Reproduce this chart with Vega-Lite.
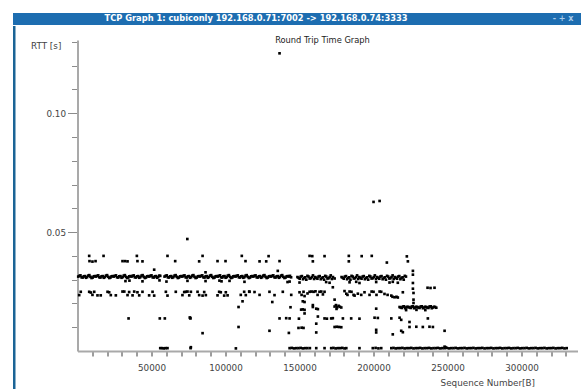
{
"$schema": "https://vega.github.io/schema/vega-lite/v6.json",
"padding": {"left": 11, "top": 13, "right": 0, "bottom": 0},
"background": "white",
"config": {"view": {"stroke": null}, "font": "DejaVu Sans"},
"columns": 1, "spacing": 0, "align": "none",
"concat": [
{
 "width": 570, "height": 12,
 "view": {"fill": "#1d6db0", "stroke": null},
 "layer": [
  {"data": {"values": [{"t": "TCP Graph 1: cubiconly 192.168.0.71:7002 -> 192.168.0.74:3333"}]},
   "mark": {"type": "text", "color": "white", "font": "DejaVu Sans", "fontWeight": "bold", "fontSize": 8.3, "dx": -42, "baseline": "middle"},
   "encoding": {"text": {"field": "t"}}},
  {"data": {"values": [{"b": "-   +   x"}]},
   "mark": {"type": "text", "color": "#a9cbea", "font": "DejaVu Sans", "fontWeight": "bold", "fontSize": 8, "dx": 265, "baseline": "middle"},
   "encoding": {"text": {"field": "b"}}}
 ]
},
{
 "columns": 2, "spacing": {"row": 0, "column": 13.5}, "align": "none",
 "concat": [
  {"width": 1, "height": 1, "data": {"values": []}, "mark": "point", "encoding": {}},
  {"width": 1, "height": 1, "data": {"values": []}, "mark": "point", "encoding": {}},
  {"width": 2.5, "height": 364, "view": {"fill": "#1b6496", "stroke": null},
   "data": {"values": [{"k": 1}]},
   "mark": {"type": "point", "opacity": 0}, "encoding": {}},
  {
   "width": 500, "height": 311,
   "title": {"text": ["", "Round Trip Time Graph"], "fontSize": 8.3, "fontWeight": "normal", "color": "#222222", "font": "DejaVu Sans", "anchor": "middle", "frame": "group", "offset": -15.5, "baseline": "bottom", "lineHeight": 10, "dx": -5},
   "data": {"values": [
{"s":500,"r":0.0313},{"s":2000,"r":0.0318},{"s":3500,"r":0.0309},{"s":5000,"r":0.0315},{"s":6500,"r":0.0311},{"s":8000,"r":0.0319},{"s":9500,"r":0.0307},{"s":11000,"r":0.0314},
{"s":12500,"r":0.0313},{"s":14000,"r":0.0318},{"s":15500,"r":0.0309},{"s":17000,"r":0.0315},{"s":18500,"r":0.0311},{"s":20000,"r":0.0319},{"s":21500,"r":0.0307},{"s":23000,"r":0.0314},
{"s":24500,"r":0.0313},{"s":26000,"r":0.0318},{"s":27500,"r":0.0309},{"s":29000,"r":0.0315},{"s":30500,"r":0.0311},{"s":32000,"r":0.0319},{"s":33500,"r":0.0307},{"s":35000,"r":0.0314},
{"s":36500,"r":0.0313},{"s":38000,"r":0.0318},{"s":39500,"r":0.0309},{"s":41000,"r":0.0315},{"s":42500,"r":0.0311},{"s":44000,"r":0.0319},{"s":45500,"r":0.0307},{"s":47000,"r":0.0314},
{"s":48500,"r":0.0313},{"s":50000,"r":0.0318},{"s":51500,"r":0.0309},{"s":53000,"r":0.0315},{"s":54500,"r":0.0311},{"s":55900,"r":0.0316},
{"s":58800,"r":0.0313},{"s":60300,"r":0.0318},{"s":61800,"r":0.0309},{"s":63300,"r":0.0315},{"s":64800,"r":0.0311},{"s":66300,"r":0.0319},{"s":67800,"r":0.0307},{"s":69300,"r":0.0314},
{"s":70800,"r":0.0313},{"s":72300,"r":0.0318},{"s":73800,"r":0.0309},{"s":75300,"r":0.0315},{"s":76800,"r":0.0311},{"s":78300,"r":0.0319},{"s":79800,"r":0.0307},{"s":81300,"r":0.0314},
{"s":82800,"r":0.0313},{"s":84300,"r":0.0318},{"s":85800,"r":0.0309},{"s":87300,"r":0.0315},{"s":88800,"r":0.0311},{"s":90300,"r":0.0319},{"s":91800,"r":0.0307},{"s":93300,"r":0.0314},
{"s":94800,"r":0.0313},{"s":96300,"r":0.0318},{"s":97800,"r":0.0309},{"s":99300,"r":0.0315},{"s":100800,"r":0.0311},{"s":102300,"r":0.0319},{"s":103800,"r":0.0307},{"s":105300,"r":0.0314},
{"s":106800,"r":0.0313},{"s":108300,"r":0.0318},{"s":109800,"r":0.0309},{"s":111300,"r":0.0315},{"s":112800,"r":0.0311},{"s":114300,"r":0.0319},{"s":115800,"r":0.0307},{"s":117300,"r":0.0314},
{"s":118800,"r":0.0313},{"s":120300,"r":0.0318},{"s":121800,"r":0.0309},{"s":123300,"r":0.0315},{"s":124800,"r":0.0311},{"s":126300,"r":0.0319},{"s":127800,"r":0.0307},{"s":129300,"r":0.0314},
{"s":130800,"r":0.0313},{"s":132300,"r":0.0318},{"s":133800,"r":0.0309},{"s":135300,"r":0.0315},{"s":136800,"r":0.0311},{"s":138300,"r":0.0319},{"s":139800,"r":0.0307},{"s":141300,"r":0.0314},
{"s":142800,"r":0.0313},{"s":144300,"r":0.0310},
{"s":148600,"r":0.0311},{"s":150100,"r":0.0304},{"s":151600,"r":0.0315},{"s":153100,"r":0.0307},{"s":154600,"r":0.0300},{"s":156100,"r":0.0313},{"s":157600,"r":0.0306},{"s":159100,"r":0.0318},
{"s":160600,"r":0.0311},{"s":162100,"r":0.0304},{"s":163600,"r":0.0315},{"s":165100,"r":0.0307},{"s":166600,"r":0.0300},{"s":168100,"r":0.0313},{"s":169600,"r":0.0306},{"s":171100,"r":0.0318},
{"s":172600,"r":0.0311},{"s":173700,"r":0.0305},
{"s":178400,"r":0.0311},{"s":179900,"r":0.0304},{"s":181400,"r":0.0315},{"s":182900,"r":0.0307},{"s":184400,"r":0.0300},{"s":185900,"r":0.0313},{"s":187400,"r":0.0306},{"s":188900,"r":0.0318},
{"s":190400,"r":0.0311},{"s":191900,"r":0.0304},{"s":193400,"r":0.0315},{"s":194900,"r":0.0307},{"s":196400,"r":0.0300},{"s":197900,"r":0.0313},{"s":199400,"r":0.0306},{"s":200900,"r":0.0318},
{"s":202400,"r":0.0311},{"s":203900,"r":0.0304},{"s":205400,"r":0.0315},{"s":206900,"r":0.0307},{"s":208400,"r":0.0300},{"s":209900,"r":0.0313},{"s":211400,"r":0.0306},{"s":212900,"r":0.0318},
{"s":214400,"r":0.0311},{"s":215900,"r":0.0304},{"s":217400,"r":0.0315},{"s":218900,"r":0.0307},{"s":220400,"r":0.0300},{"s":221900,"r":0.0313},
{"s":1250,"r":0.0316},{"s":2750,"r":0.0310},{"s":4250,"r":0.0314},{"s":5750,"r":0.0308},{"s":7250,"r":0.0317},{"s":8750,"r":0.0312},{"s":10250,"r":0.0309},{"s":11750,"r":0.0315},
{"s":13250,"r":0.0316},{"s":14750,"r":0.0310},{"s":16250,"r":0.0314},{"s":17750,"r":0.0308},{"s":19250,"r":0.0317},{"s":20750,"r":0.0312},{"s":22250,"r":0.0309},{"s":23750,"r":0.0315},
{"s":25250,"r":0.0316},{"s":26750,"r":0.0310},{"s":28250,"r":0.0314},{"s":29750,"r":0.0308},{"s":31250,"r":0.0317},{"s":32750,"r":0.0312},{"s":34250,"r":0.0309},{"s":35750,"r":0.0315},
{"s":37250,"r":0.0316},{"s":38750,"r":0.0310},{"s":40250,"r":0.0314},{"s":41750,"r":0.0308},{"s":43250,"r":0.0317},{"s":44750,"r":0.0312},{"s":46250,"r":0.0309},{"s":47750,"r":0.0315},
{"s":49250,"r":0.0316},{"s":50750,"r":0.0310},{"s":52250,"r":0.0314},{"s":53750,"r":0.0308},{"s":55250,"r":0.0317},
{"s":59550,"r":0.0316},{"s":61050,"r":0.0310},{"s":62550,"r":0.0314},{"s":64050,"r":0.0308},{"s":65550,"r":0.0317},{"s":67050,"r":0.0312},{"s":68550,"r":0.0309},{"s":70050,"r":0.0315},
{"s":71550,"r":0.0316},{"s":73050,"r":0.0310},{"s":74550,"r":0.0314},{"s":76050,"r":0.0308},{"s":77550,"r":0.0317},{"s":79050,"r":0.0312},{"s":80550,"r":0.0309},{"s":82050,"r":0.0315},
{"s":83550,"r":0.0316},{"s":85050,"r":0.0310},{"s":86550,"r":0.0314},{"s":88050,"r":0.0308},{"s":89550,"r":0.0317},{"s":91050,"r":0.0312},{"s":92550,"r":0.0309},{"s":94050,"r":0.0315},
{"s":95550,"r":0.0316},{"s":97050,"r":0.0310},{"s":98550,"r":0.0314},{"s":100050,"r":0.0308},{"s":101550,"r":0.0317},{"s":103050,"r":0.0312},{"s":104550,"r":0.0309},{"s":106050,"r":0.0315},
{"s":107550,"r":0.0316},{"s":109050,"r":0.0310},{"s":110550,"r":0.0314},{"s":112050,"r":0.0308},{"s":113550,"r":0.0317},{"s":115050,"r":0.0312},{"s":116550,"r":0.0309},{"s":118050,"r":0.0315},
{"s":119550,"r":0.0316},{"s":121050,"r":0.0310},{"s":122550,"r":0.0314},{"s":124050,"r":0.0308},{"s":125550,"r":0.0317},{"s":127050,"r":0.0312},{"s":128550,"r":0.0309},{"s":130050,"r":0.0315},
{"s":131550,"r":0.0316},{"s":133050,"r":0.0310},{"s":134550,"r":0.0314},{"s":136050,"r":0.0308},{"s":137550,"r":0.0317},{"s":139050,"r":0.0312},{"s":140550,"r":0.0309},{"s":142050,"r":0.0315},
{"s":143550,"r":0.0316},
{"s":149350,"r":0.0308},{"s":150850,"r":0.0313},{"s":152350,"r":0.0302},{"s":153850,"r":0.0310},{"s":155350,"r":0.0316},{"s":156850,"r":0.0305},{"s":158350,"r":0.0311},{"s":159850,"r":0.0303},
{"s":161350,"r":0.0308},{"s":162850,"r":0.0313},{"s":164350,"r":0.0302},{"s":165850,"r":0.0310},{"s":167350,"r":0.0316},{"s":168850,"r":0.0305},{"s":170350,"r":0.0311},{"s":171850,"r":0.0303},
{"s":179150,"r":0.0308},{"s":180650,"r":0.0313},{"s":182150,"r":0.0302},{"s":183650,"r":0.0310},{"s":185150,"r":0.0316},{"s":186650,"r":0.0305},{"s":188150,"r":0.0311},{"s":189650,"r":0.0303},
{"s":191150,"r":0.0308},{"s":192650,"r":0.0313},{"s":194150,"r":0.0302},{"s":195650,"r":0.0310},{"s":197150,"r":0.0316},{"s":198650,"r":0.0305},{"s":200150,"r":0.0311},{"s":201650,"r":0.0303},
{"s":203150,"r":0.0308},{"s":204650,"r":0.0313},{"s":206150,"r":0.0302},{"s":207650,"r":0.0310},{"s":209150,"r":0.0316},{"s":210650,"r":0.0305},{"s":212150,"r":0.0311},{"s":213650,"r":0.0303},
{"s":215150,"r":0.0308},{"s":216650,"r":0.0313},{"s":218150,"r":0.0302},{"s":219650,"r":0.0310},{"s":221150,"r":0.0316},
{"s":7900,"r":0.0400},{"s":17600,"r":0.0400},{"s":40100,"r":0.0400},{"s":60800,"r":0.0400},{"s":84500,"r":0.0400},{"s":111000,"r":0.0400},
{"s":8100,"r":0.0378},{"s":10100,"r":0.0376},{"s":12200,"r":0.0378},{"s":30400,"r":0.0378},{"s":32100,"r":0.0378},{"s":33800,"r":0.0377},{"s":40500,"r":0.0378},{"s":43900,"r":0.0377},{"s":66000,"r":0.0378},{"s":82200,"r":0.0377},{"s":94600,"r":0.0378},{"s":100000,"r":0.0378},{"s":113500,"r":0.0378},
{"s":51800,"r":0.0342},{"s":86500,"r":0.0331},
{"s":123000,"r":0.0377},{"s":127500,"r":0.0377},{"s":136500,"r":0.0378},{"s":159000,"r":0.0377},{"s":183300,"r":0.0377},{"s":209000,"r":0.0372},{"s":223200,"r":0.0377},
{"s":129100,"r":0.0399},{"s":156800,"r":0.0400},{"s":158600,"r":0.0399},{"s":166900,"r":0.0399},{"s":183300,"r":0.0400},{"s":192000,"r":0.0399},{"s":198800,"r":0.0400},{"s":222500,"r":0.0398},
{"s":135300,"r":0.0337},{"s":226600,"r":0.0337},{"s":226600,"r":0.0321},{"s":226600,"r":0.0286},{"s":227000,"r":0.0244},{"s":227000,"r":0.0216},{"s":227000,"r":0.0202},{"s":173700,"r":0.0216},
{"s":74200,"r":0.0471},{"s":136500,"r":0.1252},{"s":200000,"r":0.0627},{"s":204100,"r":0.0631},
{"s":32400,"r":0.0294},{"s":35100,"r":0.0296},{"s":43900,"r":0.0293},{"s":55400,"r":0.0297},{"s":60100,"r":0.0292},{"s":74300,"r":0.0295},{"s":86500,"r":0.0294},{"s":95900,"r":0.0296},{"s":97300,"r":0.0293},{"s":102700,"r":0.0295},{"s":112800,"r":0.0291},
{"s":141900,"r":0.0290},{"s":143300,"r":0.0292},{"s":150000,"r":0.0288},{"s":168000,"r":0.0290},{"s":170300,"r":0.0287},{"s":183800,"r":0.0289},{"s":188300,"r":0.0291},{"s":190500,"r":0.0286},{"s":201800,"r":0.0290},{"s":210800,"r":0.0288},{"s":213000,"r":0.0291},{"s":216400,"r":0.0287},
{"s":172500,"r":0.0268},{"s":236500,"r":0.0266},{"s":238500,"r":0.0265},{"s":241200,"r":0.0266},
{"s":1150,"r":0.0235},{"s":2200,"r":0.0249},{"s":7900,"r":0.0249},{"s":9000,"r":0.0246},{"s":10100,"r":0.0236},{"s":11300,"r":0.0249},{"s":13500,"r":0.0234},{"s":15700,"r":0.0234},{"s":20300,"r":0.0249},{"s":21400,"r":0.0247},{"s":22500,"r":0.0235},{"s":25900,"r":0.0234},
{"s":30400,"r":0.0250},{"s":31600,"r":0.0250},{"s":33800,"r":0.0235},{"s":34900,"r":0.0248},{"s":37200,"r":0.0234},{"s":38300,"r":0.0250},{"s":40500,"r":0.0247},{"s":41700,"r":0.0234},{"s":43900,"r":0.0249},{"s":48400,"r":0.0234},{"s":50700,"r":0.0249},{"s":51800,"r":0.0233},
{"s":59700,"r":0.0249},{"s":60800,"r":0.0233},{"s":66400,"r":0.0249},{"s":70900,"r":0.0235},{"s":72100,"r":0.0248},{"s":73200,"r":0.0249},{"s":74300,"r":0.0250},{"s":75500,"r":0.0234},{"s":76600,"r":0.0249},{"s":81100,"r":0.0249},{"s":82200,"r":0.0235},{"s":84500,"r":0.0233},
{"s":85600,"r":0.0248},{"s":86700,"r":0.0235},{"s":94600,"r":0.0234},{"s":95700,"r":0.0249},{"s":96800,"r":0.0247},{"s":99100,"r":0.0233},{"s":100200,"r":0.0247},{"s":101400,"r":0.0234},{"s":110300,"r":0.0236},{"s":112600,"r":0.0249},{"s":113700,"r":0.0235},{"s":116000,"r":0.0250},
{"s":116200,"r":0.0249},{"s":119600,"r":0.0248},{"s":123000,"r":0.0236},{"s":129700,"r":0.0249},{"s":133100,"r":0.0235},{"s":138700,"r":0.0249},{"s":144400,"r":0.0236},{"s":150000,"r":0.0247},{"s":151400,"r":0.0236},{"s":152700,"r":0.0249},{"s":153400,"r":0.0231},{"s":155400,"r":0.0242},
{"s":156800,"r":0.0249},{"s":158100,"r":0.0250},{"s":159500,"r":0.0249},{"s":160800,"r":0.0251},{"s":162200,"r":0.0236},{"s":163500,"r":0.0249},{"s":164700,"r":0.0250},{"s":165800,"r":0.0238},{"s":166900,"r":0.0249},{"s":180400,"r":0.0252},{"s":181600,"r":0.0241},{"s":182400,"r":0.0236},
{"s":183800,"r":0.0250},{"s":185100,"r":0.0249},{"s":186500,"r":0.0236},{"s":187200,"r":0.0233},{"s":189400,"r":0.0241},{"s":191700,"r":0.0236},{"s":193900,"r":0.0247},{"s":197300,"r":0.0236},{"s":198700,"r":0.0250},{"s":200000,"r":0.0249},{"s":202000,"r":0.0236},{"s":204100,"r":0.0250},
{"s":205200,"r":0.0249},{"s":207400,"r":0.0240},{"s":209500,"r":0.0236},{"s":212000,"r":0.0233},{"s":212800,"r":0.0228},{"s":214200,"r":0.0226},{"s":215500,"r":0.0228},{"s":216400,"r":0.0225},{"s":219800,"r":0.0247},{"s":226600,"r":0.0262},
{"s":111500,"r":0.0209},{"s":131600,"r":0.0206},{"s":152200,"r":0.0209},{"s":153400,"r":0.0206},
{"s":108800,"r":0.0185},{"s":159000,"r":0.0193},{"s":159000,"r":0.0185},{"s":161300,"r":0.0178},{"s":162400,"r":0.0176},{"s":173700,"r":0.0187},{"s":174600,"r":0.0193},{"s":175500,"r":0.0184},{"s":176400,"r":0.0190},{"s":177300,"r":0.0186},{"s":178200,"r":0.0183},{"s":175000,"r":0.0177},{"s":201800,"r":0.0178},{"s":143900,"r":0.0184},
{"s":151100,"r":0.0174},{"s":152200,"r":0.0175},{"s":153400,"r":0.0173},
{"s":34500,"r":0.0137},{"s":55600,"r":0.0137},{"s":59000,"r":0.0137},{"s":75900,"r":0.0141},{"s":76300,"r":0.0137},{"s":76100,"r":0.0139},{"s":136500,"r":0.0137},{"s":141000,"r":0.0138},{"s":143300,"r":0.0137},{"s":149600,"r":0.0136},{"s":153400,"r":0.0158},{"s":162400,"r":0.0145},
{"s":166900,"r":0.0137},{"s":168500,"r":0.0136},{"s":171400,"r":0.0137},{"s":172500,"r":0.0138},{"s":179300,"r":0.0137},{"s":184900,"r":0.0137},{"s":190500,"r":0.0136},{"s":200700,"r":0.0140},{"s":202900,"r":0.0139},{"s":212000,"r":0.0137},{"s":217600,"r":0.0140},{"s":218700,"r":0.0131},{"s":224300,"r":0.0122},{"s":236700,"r":0.0137},
{"s":108800,"r":0.0101},{"s":161300,"r":0.0115},{"s":224300,"r":0.0101},{"s":228900,"r":0.0102},{"s":233300,"r":0.0101},{"s":237800,"r":0.0102},{"s":240100,"r":0.0101},{"s":173700,"r":0.0101},{"s":175200,"r":0.0102},{"s":176700,"r":0.0101},{"s":178200,"r":0.0100},{"s":149300,"r":0.0097},{"s":151400,"r":0.0098},{"s":152700,"r":0.0097},
{"s":84500,"r":0.0075},{"s":129700,"r":0.0085},{"s":142800,"r":0.0076},{"s":161300,"r":0.0078},{"s":201800,"r":0.0089},{"s":201800,"r":0.0078},{"s":213000,"r":0.0070},{"s":218700,"r":0.0085},{"s":219800,"r":0.0079},{"s":248000,"r":0.0085},
{"s":217600,"r":0.0185},{"s":219100,"r":0.0181},{"s":220600,"r":0.0188},{"s":222100,"r":0.0183},{"s":223600,"r":0.0185},{"s":225100,"r":0.0181},{"s":226600,"r":0.0188},{"s":228100,"r":0.0183},{"s":229600,"r":0.0185},{"s":231100,"r":0.0181},{"s":232600,"r":0.0188},{"s":234100,"r":0.0183},
{"s":235600,"r":0.0185},{"s":237100,"r":0.0181},{"s":238600,"r":0.0188},{"s":240100,"r":0.0183},{"s":241600,"r":0.0185},{"s":242400,"r":0.0182},{"s":222000,"r":0.0172},{"s":229000,"r":0.0173},{"s":235000,"r":0.0172},
{"s":218350,"r":0.0183},{"s":219850,"r":0.0187},{"s":221350,"r":0.0180},{"s":222850,"r":0.0186},{"s":224350,"r":0.0183},{"s":225850,"r":0.0187},{"s":227350,"r":0.0180},{"s":228850,"r":0.0186},
{"s":230350,"r":0.0183},{"s":231850,"r":0.0187},{"s":233350,"r":0.0180},{"s":234850,"r":0.0186},{"s":236350,"r":0.0183},{"s":237850,"r":0.0187},{"s":239350,"r":0.0180},{"s":240850,"r":0.0186},
{"s":55900,"r":0.0012},{"s":57100,"r":0.0012},{"s":58300,"r":0.0011},{"s":59500,"r":0.0012},{"s":60800,"r":0.0012},{"s":76400,"r":0.0012},{"s":76600,"r":0.0016},{"s":107000,"r":0.0011},
{"s":143300,"r":0.0012},{"s":144800,"r":0.0013},{"s":146300,"r":0.0011},{"s":147800,"r":0.0012},{"s":149300,"r":0.0012},{"s":150800,"r":0.0013},{"s":152300,"r":0.0011},{"s":153800,"r":0.0012},{"s":155300,"r":0.0012},{"s":157000,"r":0.0012},
{"s":161300,"r":0.0012},{"s":166900,"r":0.0012},
{"s":171400,"r":0.0012},{"s":172900,"r":0.0013},{"s":174400,"r":0.0011},{"s":175900,"r":0.0012},{"s":177400,"r":0.0012},{"s":178900,"r":0.0013},{"s":180400,"r":0.0011},{"s":181600,"r":0.0012},
{"s":190500,"r":0.0012},{"s":199500,"r":0.0012},{"s":201400,"r":0.0013},{"s":203300,"r":0.0011},{"s":205200,"r":0.0012},
{"s":248000,"r":0.0018},{"s":248600,"r":0.0016},
{"s":212000,"r":0.0012},{"s":213500,"r":0.0013},{"s":215000,"r":0.0011},{"s":216500,"r":0.0012},{"s":218000,"r":0.0012},{"s":219500,"r":0.0013},{"s":221000,"r":0.0011},{"s":222500,"r":0.0012},
{"s":224000,"r":0.0012},{"s":225500,"r":0.0013},{"s":227000,"r":0.0011},{"s":228500,"r":0.0012},{"s":230000,"r":0.0012},{"s":231500,"r":0.0013},{"s":233000,"r":0.0011},{"s":234500,"r":0.0012},
{"s":236000,"r":0.0012},{"s":237500,"r":0.0013},{"s":239000,"r":0.0011},{"s":240500,"r":0.0012},{"s":242000,"r":0.0012},{"s":243500,"r":0.0013},{"s":245000,"r":0.0011},{"s":246500,"r":0.0012},
{"s":248000,"r":0.0012},{"s":249500,"r":0.0013},{"s":251000,"r":0.0011},{"s":252500,"r":0.0012},{"s":254000,"r":0.0012},{"s":255500,"r":0.0013},{"s":257000,"r":0.0011},{"s":258500,"r":0.0012},
{"s":260000,"r":0.0012},{"s":261500,"r":0.0013},{"s":263000,"r":0.0011},{"s":264500,"r":0.0012},{"s":266000,"r":0.0012},{"s":267500,"r":0.0013},{"s":269000,"r":0.0011},{"s":270500,"r":0.0012},
{"s":272000,"r":0.0012},{"s":273500,"r":0.0013},{"s":275000,"r":0.0011},{"s":276500,"r":0.0012},{"s":278000,"r":0.0012},{"s":279500,"r":0.0013},{"s":281000,"r":0.0011},{"s":282500,"r":0.0012},
{"s":284000,"r":0.0012},{"s":285500,"r":0.0013},{"s":287000,"r":0.0011},{"s":288500,"r":0.0012},{"s":290000,"r":0.0012},{"s":291500,"r":0.0013},{"s":293000,"r":0.0011},{"s":294500,"r":0.0012},
{"s":296000,"r":0.0012},{"s":297500,"r":0.0013},{"s":299000,"r":0.0011},{"s":300500,"r":0.0012},{"s":302000,"r":0.0012},{"s":303500,"r":0.0013},{"s":305000,"r":0.0011},{"s":306500,"r":0.0012},
{"s":308000,"r":0.0012},{"s":309500,"r":0.0013},{"s":311000,"r":0.0011},{"s":312500,"r":0.0012},{"s":314000,"r":0.0012},{"s":315500,"r":0.0013},{"s":317000,"r":0.0011},{"s":318500,"r":0.0012},
{"s":320000,"r":0.0012},{"s":321500,"r":0.0013},{"s":323000,"r":0.0011},{"s":324500,"r":0.0012},{"s":326000,"r":0.0012},{"s":327500,"r":0.0013},{"s":329000,"r":0.0011},{"s":330500,"r":0.0012}
   ]},
   "mark": {"type": "square", "size": 7, "color": "#000000", "opacity": 1},
   "encoding": {
    "x": {"field": "s", "type": "quantitative",
     "scale": {"domain": [0, 337800], "nice": false, "zero": false},
     "axis": {"title": "Sequence Number[B]",
      "values": [10000,20000,30000,40000,50000,60000,70000,80000,90000,100000,110000,120000,130000,140000,150000,160000,170000,180000,190000,200000,210000,220000,230000,240000,250000,260000,270000,280000,290000,300000,310000,320000,330000],
      "labelExpr": "datum.value % 50000 == 0 ? '' + datum.value : ''",
      "grid": false, "domainColor": "#a9a9a9", "domainWidth": 2,
      "tickColor": "#3a3a3a", "tickSize": 5, "tickWidth": 1,
      "labelFont": "DejaVu Sans", "labelFontSize": 8.8, "labelColor": "#444444", "labelPadding": 7, "labelOverlap": false, "labelFlush": false,
      "titleFont": "DejaVu Sans", "titleFontSize": 8.8, "titleFontWeight": "normal", "titleColor": "#444444",
      "titleAlign": "right", "titleBaseline": "middle", "titleX": 457, "titleY": 31.5}},
    "y": {"field": "r", "type": "quantitative",
     "scale": {"domain": [0, 0.1308], "nice": false, "zero": false},
     "axis": {"title": "RTT [s]",
      "values": [0.01,0.02,0.03,0.04,0.05,0.06,0.07,0.08,0.09,0.1,0.11,0.12,0.13],
      "labelExpr": "datum.value == 0.05 || datum.value == 0.1 ? format(datum.value, '.2f') : ''",
      "tickSize": {"condition": {"test": "datum.value == 0.05 || datum.value == 0.1", "value": 10}, "value": 6},
      "tickColor": "#8c8c8c", "tickWidth": 1,
      "grid": false, "domainColor": "#a9a9a9", "domainWidth": 2,
      "labelFont": "DejaVu Sans", "labelFontSize": 8.8, "labelColor": "#444444", "labelPadding": 2, "labelOverlap": false, "labelFlush": false,
      "titleFont": "DejaVu Sans", "titleFontSize": 8.8, "titleFontWeight": "normal", "titleColor": "#444444",
      "titleAngle": 0, "titleAlign": "left", "titleBaseline": "middle", "titleX": -47, "titleY": 5}}
   }
  }
 ]
}
]
}
